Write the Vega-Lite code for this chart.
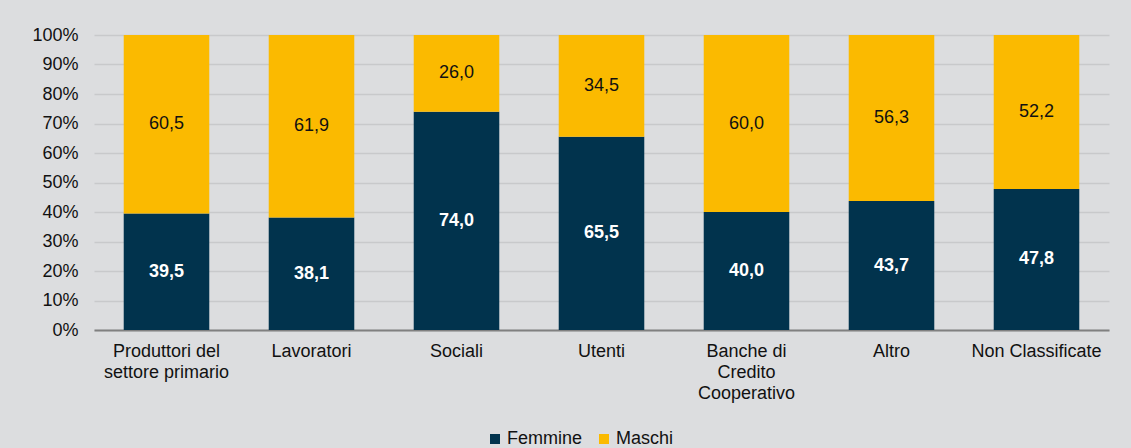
{
  "$schema": "https://vega.github.io/schema/vega-lite/v6.json",
  "width": 1015,
  "height": 295,
  "autosize": {"type": "none"},
  "padding": {"left": 94, "top": 35, "right": 22, "bottom": 118},
  "background": "#dcdddf",
  "config": {
    "view": {"stroke": null},
    "font": "Liberation Sans",
    "locale": {"number": {"decimal": ",", "thousands": ".", "grouping": [3], "currency": ["", " €"]}},
    "axisY": {
      "title": null,
      "labelOverlap": false,
      "labelFont": "Liberation Sans",
      "labelFontSize": 18,
      "labelColor": "#111111",
      "labelPadding": 16,
      "ticks": false,
      "domain": false,
      "gridColor": "#c8c9cb",
      "gridWidth": 1.5
    }
  },
  "data": {
    "values": [
      {"cat": "Produttori del|settore primario", "sesso": "Femmine", "ord": 1, "value": 39.5},
      {"cat": "Produttori del|settore primario", "sesso": "Maschi", "ord": 2, "value": 60.5},
      {"cat": "Lavoratori", "sesso": "Femmine", "ord": 1, "value": 38.1},
      {"cat": "Lavoratori", "sesso": "Maschi", "ord": 2, "value": 61.9},
      {"cat": "Sociali", "sesso": "Femmine", "ord": 1, "value": 74.0},
      {"cat": "Sociali", "sesso": "Maschi", "ord": 2, "value": 26.0},
      {"cat": "Utenti", "sesso": "Femmine", "ord": 1, "value": 65.5},
      {"cat": "Utenti", "sesso": "Maschi", "ord": 2, "value": 34.5},
      {"cat": "Banche di|Credito|Cooperativo", "sesso": "Femmine", "ord": 1, "value": 40.0},
      {"cat": "Banche di|Credito|Cooperativo", "sesso": "Maschi", "ord": 2, "value": 60.0},
      {"cat": "Altro", "sesso": "Femmine", "ord": 1, "value": 43.7},
      {"cat": "Altro", "sesso": "Maschi", "ord": 2, "value": 56.3},
      {"cat": "Non Classificate", "sesso": "Femmine", "ord": 1, "value": 47.8},
      {"cat": "Non Classificate", "sesso": "Maschi", "ord": 2, "value": 52.2}
    ]
  },
  "transform": [
    {"stack": "value", "groupby": ["cat"], "sort": [{"field": "ord", "order": "ascending"}], "as": ["y0", "y1"]},
    {"calculate": "(datum.y0 + datum.y1) / 2", "as": "ymid"}
  ],
  "encoding": {
    "x": {
      "field": "cat",
      "type": "nominal",
      "sort": null,
      "scale": {"paddingInner": 0.41, "paddingOuter": 0.205},
      "axis": {
        "title": null,
        "labelAngle": 0,
        "labelExpr": "split(datum.label, '|')",
        "labelFont": "Liberation Sans",
        "labelFontSize": 18,
        "labelColor": "#111111",
        "labelLineHeight": 21,
        "labelPadding": 12,
        "ticks": false,
        "tickSize": 0,
        "domainColor": "#808080",
        "domainWidth": 2,
        "grid": false,
        "labelLimit": 300
      }
    }
  },
  "layer": [
    {
      "mark": {"type": "bar"},
      "encoding": {
        "y": {
          "field": "y1",
          "type": "quantitative",
          "scale": {"domain": [0, 100], "nice": false},
          "axis": {"values": [0, 10, 20, 30, 40, 50, 60, 70, 80, 90, 100], "labelExpr": "datum.value + '%'"}
        },
        "y2": {"field": "y0"},
        "color": {
          "field": "sesso",
          "type": "nominal",
          "scale": {"domain": ["Femmine", "Maschi"], "range": ["#01334d", "#fbba00"]},
          "legend": {
            "title": null,
            "orient": "none",
            "direction": "horizontal",
            "legendX": 392,
            "legendY": 395,
            "symbolType": "square",
            "symbolSize": 100,
            "symbolStrokeWidth": 0,
            "labelFont": "Liberation Sans",
            "labelFontSize": 18,
            "labelColor": "#111111",
            "labelOffset": 3,
            "columnPadding": 12
          }
        }
      }
    },
    {
      "transform": [{"filter": "datum.sesso === 'Femmine'"}],
      "mark": {"type": "text", "color": "white", "fontWeight": "bold", "fontSize": 18, "font": "Liberation Sans", "baseline": "middle"},
      "encoding": {
        "y": {"field": "ymid", "type": "quantitative", "axis": {"values": [0, 10, 20, 30, 40, 50, 60, 70, 80, 90, 100], "labelExpr": "datum.value + '%'"}},
        "text": {"field": "value", "type": "quantitative", "format": ".1f"}
      }
    },
    {
      "transform": [{"filter": "datum.sesso === 'Maschi'"}],
      "mark": {"type": "text", "color": "#111111", "fontSize": 18, "font": "Liberation Sans", "baseline": "middle"},
      "encoding": {
        "y": {"field": "ymid", "type": "quantitative", "axis": {"values": [0, 10, 20, 30, 40, 50, 60, 70, 80, 90, 100], "labelExpr": "datum.value + '%'"}},
        "text": {"field": "value", "type": "quantitative", "format": ".1f"}
      }
    }
  ]
}
